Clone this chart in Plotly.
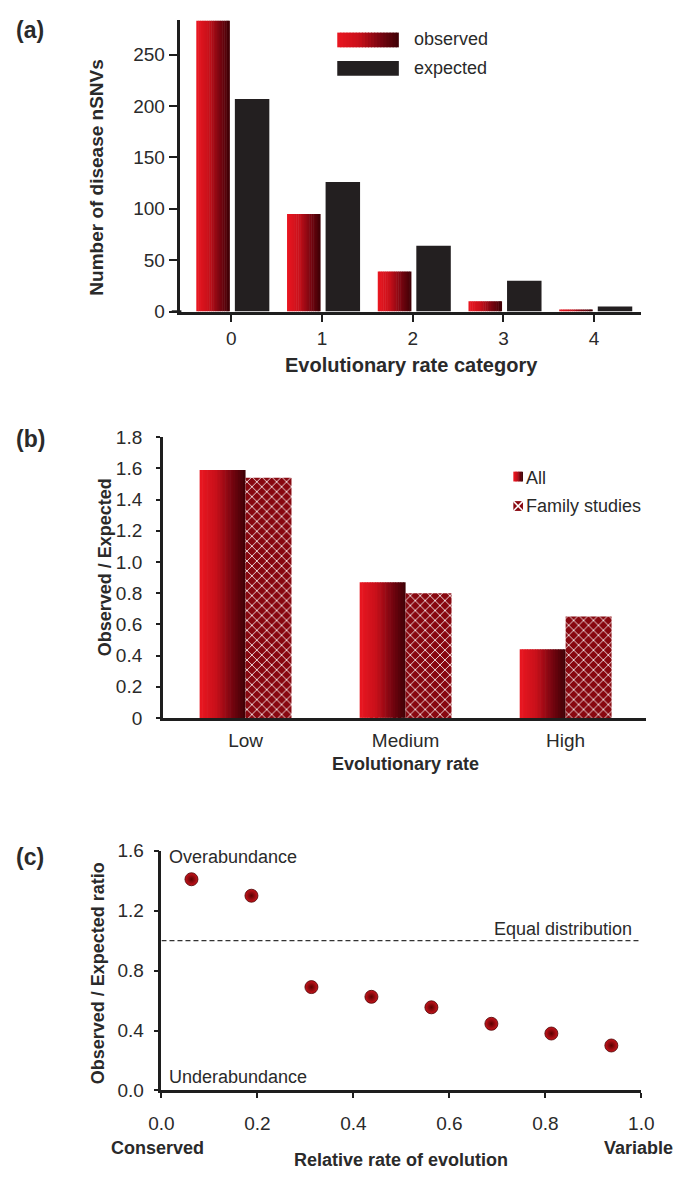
import plotly.graph_objects as go

# ---------------- data ----------------
cat_a = [0, 1, 2, 3, 4]
observed = [283, 95, 39, 10, 2]
expected = [207, 126, 64, 30, 5]

cat_b = ["Low", "Medium", "High"]
all_ratio = [1.59, 0.87, 0.44]
family_ratio = [1.54, 0.80, 0.65]

rel_rate = [0.0625, 0.1875, 0.3125, 0.4375, 0.5625, 0.6875, 0.8125, 0.9375]
oe_ratio = [1.41, 1.30, 0.69, 0.625, 0.555, 0.445, 0.38, 0.30]

ticks_b = [0, 0.2, 0.4, 0.6, 0.8, 1.0, 1.2, 1.4, 1.6, 1.8]
ticktext_b = ["0", "0.2", "0.4", "0.6", "0.8", "1.0", "1.2", "1.4", "1.6", "1.8"]

# ---------------- styling ----------------
W, H = 688, 1181
FONT = "Liberation Sans, Arial, sans-serif"
TXT = "#2a2a2a"
AX = "#1e1e1e"
GRAD = [(0.0, (232, 22, 32)), (0.35, (200, 16, 26)), (0.7, (122, 5, 16)), (1.0, (66, 0, 6))]
DARK = "#231f20"
PATTERN_BG = "#880810"
FS = 18
TFS = 19


def grad_color(t):
    for (t0, c0), (t1, c1) in zip(GRAD[:-1], GRAD[1:]):
        if t0 <= t <= t1:
            f = (t - t0) / (t1 - t0) if t1 > t0 else 0
            c = [round(a + (b - a) * f) for a, b in zip(c0, c1)]
            return "rgb(%d,%d,%d)" % tuple(c)
    return "rgb(%d,%d,%d)" % GRAD[-1][1]


def px(x):
    return x / W


def py(y):
    return 1 - y / H


fig = go.Figure()


def gradient_bars(x, y, offset, width, xa, ya, n=18):
    step = width / n
    for i in range(n):
        w = step * 1.25 if i < n - 1 else step
        fig.add_trace(go.Bar(
            x=x, y=y, offset=offset + i * step, width=w,
            marker=dict(color=grad_color(i / (n - 1)), line=dict(width=0)),
            xaxis=xa, yaxis=ya, showlegend=False, hoverinfo="skip"))


# ---------- panel (a) ----------
gradient_bars(cat_a, observed, -0.385, 0.37, "x", "y")
fig.add_trace(go.Bar(x=cat_a, y=expected, offset=0.04, width=0.38,
                     marker=dict(color=DARK, line=dict(width=0)),
                     xaxis="x", yaxis="y", showlegend=False, hoverinfo="skip"))

# ---------- panel (b) ----------
xb = list(range(len(cat_b)))
gradient_bars(xb, all_ratio, -0.287, 0.287, "x2", "y2")
fig.add_trace(go.Bar(x=xb, y=family_ratio, offset=0.0, width=0.287,
                     marker=dict(color=PATTERN_BG, line=dict(width=0),
                                 pattern=dict(shape="x", fgcolor="white", bgcolor=PATTERN_BG,
                                              size=7, solidity=0.22, fillmode="replace")),
                     xaxis="x2", yaxis="y2", showlegend=False, hoverinfo="skip"))

# ---------- panel (c) ----------
fig.add_trace(go.Scatter(x=[0, 1], y=[1, 1], mode="lines",
                         line=dict(color="#333333", width=1.3, dash="5px,3px"),
                         xaxis="x3", yaxis="y3", showlegend=False, hoverinfo="skip"))
fig.add_trace(go.Scatter(x=rel_rate, y=oe_ratio, mode="markers",
                         marker=dict(size=13, color="#c8141c",
                                     gradient=dict(type="radial", color="#5a0000"),
                                     line=dict(color="#4a0000", width=0.8)),
                         xaxis="x3", yaxis="y3", showlegend=False, hoverinfo="skip"))

tickfont = dict(family=FONT, size=TFS, color=TXT)
axis_common = dict(showline=True, linecolor=AX, linewidth=2.5, ticks="outside",
                   tickcolor=AX, tickwidth=2, showgrid=False, zeroline=False,
                   tickfont=tickfont, fixedrange=True)

fig.update_layout(
    width=W, height=H, margin=dict(l=0, r=0, t=0, b=0),
    paper_bgcolor="white", plot_bgcolor="white",
    barmode="overlay", showlegend=False,
    font=dict(family=FONT, color=TXT),
    xaxis=dict(domain=[px(174), px(653)], range=[-0.56, 4.52], anchor="y",
               tickvals=cat_a, ticklen=8, ticklabelstandoff=0, **axis_common),
    yaxis=dict(domain=[py(307), py(10)], range=[0, 284], anchor="x",
               tickvals=[0, 50, 100, 150, 200, 250], ticklen=9, **axis_common),
    xaxis2=dict(domain=[px(155.7), px(658)], range=[-0.517, 2.503], anchor="y2",
                tickvals=xb, ticktext=cat_b, ticklen=0, ticks="", ticklabelstandoff=4,
                **{k: v for k, v in axis_common.items() if k != "ticks"}),
    yaxis2=dict(domain=[py(720.7), py(435)], range=[0, 1.8], anchor="x2",
                tickvals=ticks_b, ticktext=ticktext_b, ticklen=4, ticklabelstandoff=10,
                **axis_common),
    xaxis3=dict(domain=[px(154.3), px(653)], range=[0, 1], anchor="y3",
                tickvals=[0, 0.2, 0.4, 0.6, 0.8, 1.0], tickformat=".1f", ticklen=5,
                ticklabelstandoff=9, **axis_common),
    yaxis3=dict(domain=[py(1100), py(856)], range=[0, 1.6], anchor="x3",
                tickvals=[0, 0.4, 0.8, 1.2, 1.6], tickformat=".1f", ticklen=5,
                ticklabelstandoff=6, **axis_common),
)

ann = []


def note(text, x, y, xanchor="center", yanchor="middle", size=FS, bold=False, angle=0):
    ann.append(dict(text=("<b>%s</b>" % text) if bold else text, x=px(x), y=py(y),
                    xref="paper", yref="paper", xanchor=xanchor, yanchor=yanchor,
                    showarrow=False, textangle=angle,
                    font=dict(family=FONT, size=size, color=TXT)))


# panel labels
note("(a)", 1, 20, xanchor="left", size=23, bold=True)
note("(b)", 1, 437, xanchor="left", size=23, bold=True)
note("(c)", 1, 862, xanchor="left", size=23, bold=True)

# axis titles
note("Number of disease nSNVs", 87, 170, size=19, bold=True, angle=-90)
note("Evolutionary rate category", 414, 361, size=20, bold=True)
note("Observed / Expected", 96, 567, bold=True, angle=-90)
note("Evolutionary rate", 408, 768, bold=True)
note("Observed / Expected ratio", 88, 981, bold=True, angle=-90)
note("Relative rate of evolution", 403, 1171, bold=True)
note("Conserved", 100, 1159, xanchor="left", bold=True)
note("Variable", 688, 1159, xanchor="right", bold=True)

# legend (a)
note("observed", 415, 30, xanchor="left")
note("expected", 415, 59, xanchor="left")
# legend (b)
note("All", 531, 476, xanchor="left")
note("Family studies", 531, 505, xanchor="left")

# panel (c) texts
note("Overabundance", 160, 862, xanchor="left")
note("Underabundance", 160, 1086, xanchor="left")
note("Equal distribution", 645, 936, xanchor="right")

shapes = []


def grad_swatch(x0, x1, y0, y1, n=20):
    step = (x1 - x0) / n
    for i in range(n):
        xa = x0 + i * step
        xb_ = xa + step * (1.3 if i < n - 1 else 1)
        shapes.append(dict(type="rect", xref="paper", yref="paper",
                           x0=px(xa), x1=px(xb_), y0=py(y1), y1=py(y0),
                           fillcolor=grad_color(i / (n - 1)), line=dict(width=0)))


grad_swatch(337, 401, 23, 38)
shapes.append(dict(type="rect", xref="paper", yref="paper", x0=px(337), x1=px(401),
                   y0=py(67), y1=py(52), fillcolor=DARK, line=dict(width=0)))
grad_swatch(520, 530, 470, 480, n=6)
# family studies swatch
shapes.append(dict(type="rect", xref="paper", yref="paper", x0=px(520), x1=px(530),
                   y0=py(510), y1=py(500), fillcolor=PATTERN_BG, line=dict(width=0)))
shapes.append(dict(type="line", xref="paper", yref="paper", x0=px(520), x1=px(530),
                   y0=py(510), y1=py(500), line=dict(color="white", width=1.5)))
shapes.append(dict(type="line", xref="paper", yref="paper", x0=px(520), x1=px(530),
                   y0=py(500), y1=py(510), line=dict(color="white", width=1.5)))
# x-axis extension to the left of the y axis in (a)
shapes.append(dict(type="line", xref="paper", yref="paper", x0=px(165), x1=px(175),
                   y0=py(307), y1=py(307), line=dict(color=AX, width=2.5)))

fig.update_layout(annotations=ann, shapes=shapes)

fig.write_html("out.html", config={"displayModeBar": False},
               post_script="document.body.style.margin='0px';document.body.style.overflow='hidden';")
